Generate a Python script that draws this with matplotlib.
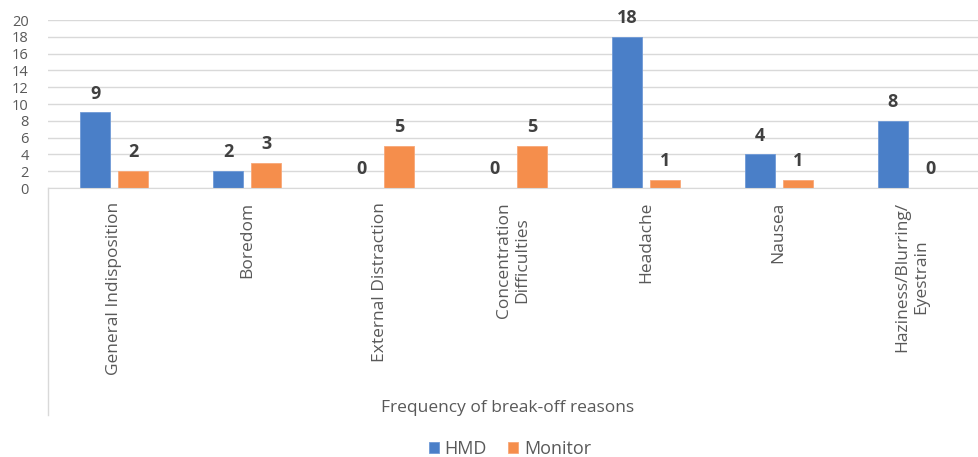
import matplotlib.pyplot as plt
import numpy as np

categories = ['General Indisposition', 'Boredom', 'External Distraction',
              'Concentration\nDifficulties', 'Headache', 'Nausea',
              'Haziness/Blurring/\nEyestrain']
hmd = [9, 2, 0, 0, 18, 4, 8]
monitor = [2, 3, 5, 5, 1, 1, 0]
yticks = list(range(0, 21, 2))

plt.rcParams['font.family'] = ['Open Sans', 'DejaVu Sans']

blue = '#4a7fc8'
orange = '#f58e4c'
grey = '#595959'

fig = plt.figure(figsize=(9.79, 4.57), dpi=100)
ax = fig.add_axes([48 / 979, 1 - 188 / 457, (978 - 48) / 979, (188 - 20) / 457])

x = np.arange(len(categories))
w = 0.225
off = 0.143
b1 = ax.bar(x - off, hmd, w, color=blue, edgecolor='#6f9ad6', linewidth=0.6, label='HMD')
b2 = ax.bar(x + off, monitor, w, color=orange, edgecolor='#f8a878', linewidth=0.6, label='Monitor')

for bars, vals in [(b1, hmd), (b2, monitor)]:
    for b, v in zip(bars, vals):
        ax.annotate(str(v), (b.get_x() + b.get_width() / 2, v), xytext=(0, 7),
                    textcoords='offset points', ha='center', va='bottom',
                    fontsize=13, fontweight='bold', color='#404040')

ax.set_xlim(-0.5, len(categories) - 0.5)
ax.set_ylim(0, 20)
ax.set_yticks(yticks)
ax.set_yticklabels([str(t) for t in yticks], fontsize=10.5, color=grey)
ax.yaxis.grid(True, color='#d9d9d9', linewidth=1)
ax.set_axisbelow(True)
ax.tick_params(axis='y', length=0, pad=14)
ax.tick_params(axis='x', length=0, pad=10)
for s in ['top', 'right', 'left']:
    ax.spines[s].set_visible(False)
ax.spines['bottom'].set_color('#d9d9d9')

ax.set_xticks(x)
ax.set_xticklabels(categories, rotation=90, fontsize=12.5, color=grey,
                   va='top', ha='center', multialignment='center')

# left frame line continuing below the category labels
fig.add_artist(plt.Line2D([48 / 979, 48 / 979], [1 - 415 / 457, 1 - 188 / 457],
                          color='#d9d9d9', linewidth=1))

fig.text(508 / 979, 1 - 408 / 457, 'Frequency of break-off reasons',
         ha='center', va='center', fontsize=12.5, color=grey)

fig.legend(handles=[b1, b2], labels=['HMD', 'Monitor'], loc='center',
           bbox_to_anchor=(510 / 979, 1 - 449 / 457), ncol=2, frameon=False,
           fontsize=13, labelcolor=grey, handlelength=0.55, handleheight=0.55,
           handletextpad=0.3, columnspacing=1.2)

fig.savefig('out.png', dpi=100)
